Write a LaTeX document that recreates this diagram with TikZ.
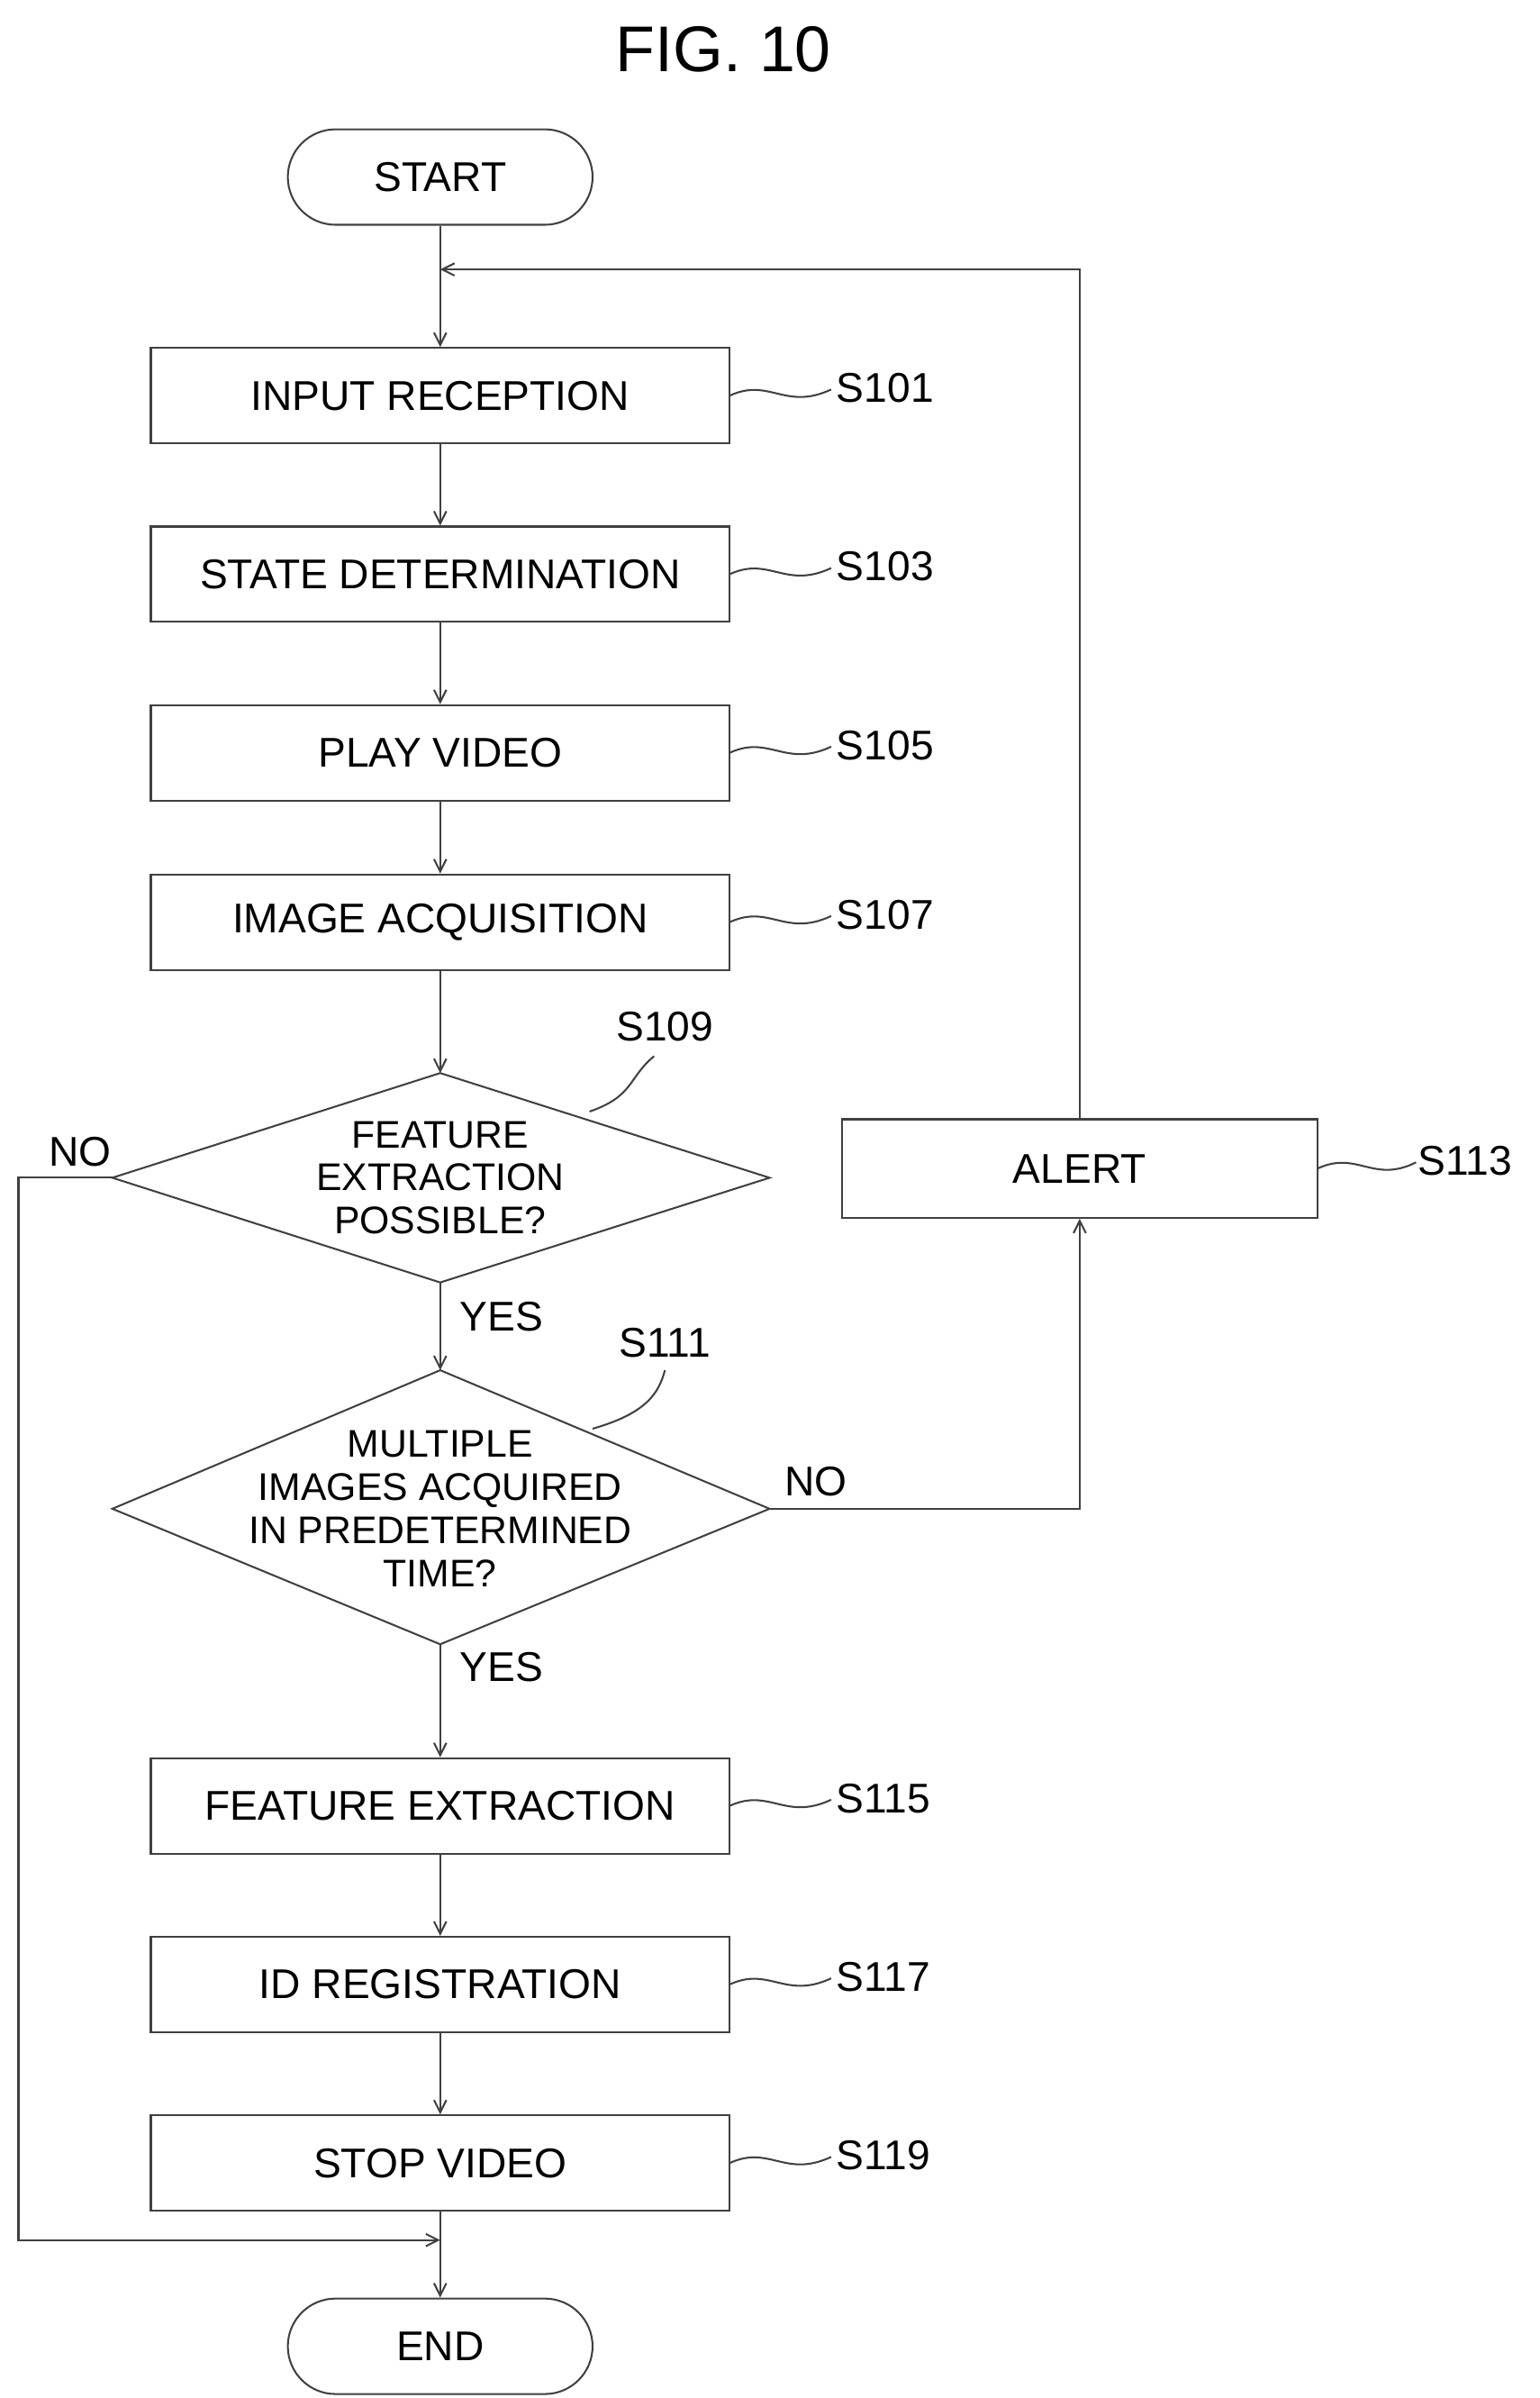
\documentclass[tikz,border=0pt]{standalone}
\usepackage{fontspec}
\setmainfont{Liberation Sans}
\usetikzlibrary{shapes.geometric,arrows.meta}
\begin{document}
\begin{tikzpicture}[x=1pt,y=-1pt,
  line/.style={draw=black!75,line width=1.2pt},
  arr/.style={line,-{Straight Barb[length=8pt,width=8pt]}},
  box/.style={line,rectangle,minimum width=376pt,minimum height=62pt,inner sep=0pt,font=\fontsize{27}{30}\selectfont},
  term/.style={line,rectangle,rounded corners=31pt,minimum width=198pt,minimum height=62pt,font=\fontsize{27}{30}\selectfont},
  dia/.style={line,diamond,aspect=3.1,inner sep=0pt,font=\fontsize{25}{27}\selectfont,align=center},
  lab/.style={font=\fontsize{27}{30}\selectfont}]
\useasboundingbox (0,0) rectangle (1000,1557.6);
\node[font=\fontsize{42}{46}\selectfont] (title) at (470,32) {FIG. 10};
\node[term] (start) at (286,115) {START};
\node[box] (s101) at (286,257) {INPUT RECEPTION};
\node[box] (s103) at (286,373) {STATE DETERMINATION};
\node[box] (s105) at (286,489) {PLAY VIDEO};
\node[box] (s107) at (286,599) {IMAGE ACQUISITION};
\draw[line] (73,765) coordinate (d1l) -- (286,697) coordinate (d1t) -- (500,765) coordinate (d1r) -- (286,833) coordinate (d1b) -- cycle;
\node[font=\fontsize{25}{28}\selectfont,align=center] (s109) at (286,765) {FEATURE\\EXTRACTION\\POSSIBLE?};
\draw[line] (73,980) coordinate (d2l) -- (286,890) coordinate (d2t) -- (500,980) coordinate (d2r) -- (286,1068) coordinate (d2b) -- cycle;
\node[font=\fontsize{25}{28}\selectfont,align=center] (s111) at (286,980) {MULTIPLE\\IMAGES ACQUIRED\\IN PREDETERMINED\\TIME?};
\node[box,minimum width=309pt,minimum height=64pt] (s113) at (701.5,759) {ALERT};
\node[box] (s115) at (286,1173) {FEATURE EXTRACTION};
\node[box] (s117) at (286,1289) {ID REGISTRATION};
\node[box] (s119) at (286,1405) {STOP VIDEO};
\node[term] (end) at (286,1524) {END};
\coordinate (loop) at (286,175);
\coordinate (join) at (286,1455);
\draw[line] (start) -- (loop);
\draw[arr] (loop) -- (s101);
\draw[arr] (s101) -- (s103);
\draw[arr] (s103) -- (s105);
\draw[arr] (s105) -- (s107);
\draw[arr] (s107) -- (d1t);
\draw[arr] (d1b) -- (d2t);
\draw[arr] (d2b) -- (s115);
\draw[arr] (s115) -- (s117);
\draw[arr] (s117) -- (s119);
\draw[line] (s119) -- (join);
\draw[arr] (join) -- (end);
\draw[arr] (s113.north) |- (loop);
\draw[arr] (d2r) -| (s113.south);
\draw[arr] (d1l) -- (12,765) -- (12,1455) -- (join);
\node[lab] (no1) at (52,748) {NO};
\node[lab] (no2) at (530,962) {NO};
\node[lab] (yes1) at (326,855) {YES};
\node[lab] (yes2) at (326,1083) {YES};
\foreach \n/\y in {s101/257,s103/373,s105/489,s107/599,s115/1173,s117/1289,s119/1405}{
  \draw[line] (474,\y) .. controls (500,\y-12) and (510,\y+10) .. (540,\y-4);
}
\node[lab,anchor=west] (l101) at (540,252) {S101};
\node[lab,anchor=west] (l103) at (540,368) {S103};
\node[lab,anchor=west] (l105) at (540,484) {S105};
\node[lab,anchor=west] (l107) at (540,594) {S107};
\node[lab,anchor=west] (l115) at (540,1168) {S115};
\node[lab,anchor=west] (l117) at (540,1284) {S117};
\node[lab,anchor=west] (l119) at (540,1400) {S119};
\draw[line] (856,759) .. controls (882,747) and (892,769) .. (920,755);
\node[lab,anchor=west] (l113) at (918,754) {S113};
\draw[line] (383,722) .. controls (412,712) and (408,700) .. (425,686);
\node[lab] (l109) at (432,667) {S109};
\draw[line] (385,928) .. controls (420,918) and (428,905) .. (432,890);
\node[lab] (l111) at (432,872) {S111};
\end{tikzpicture}
\end{document}
